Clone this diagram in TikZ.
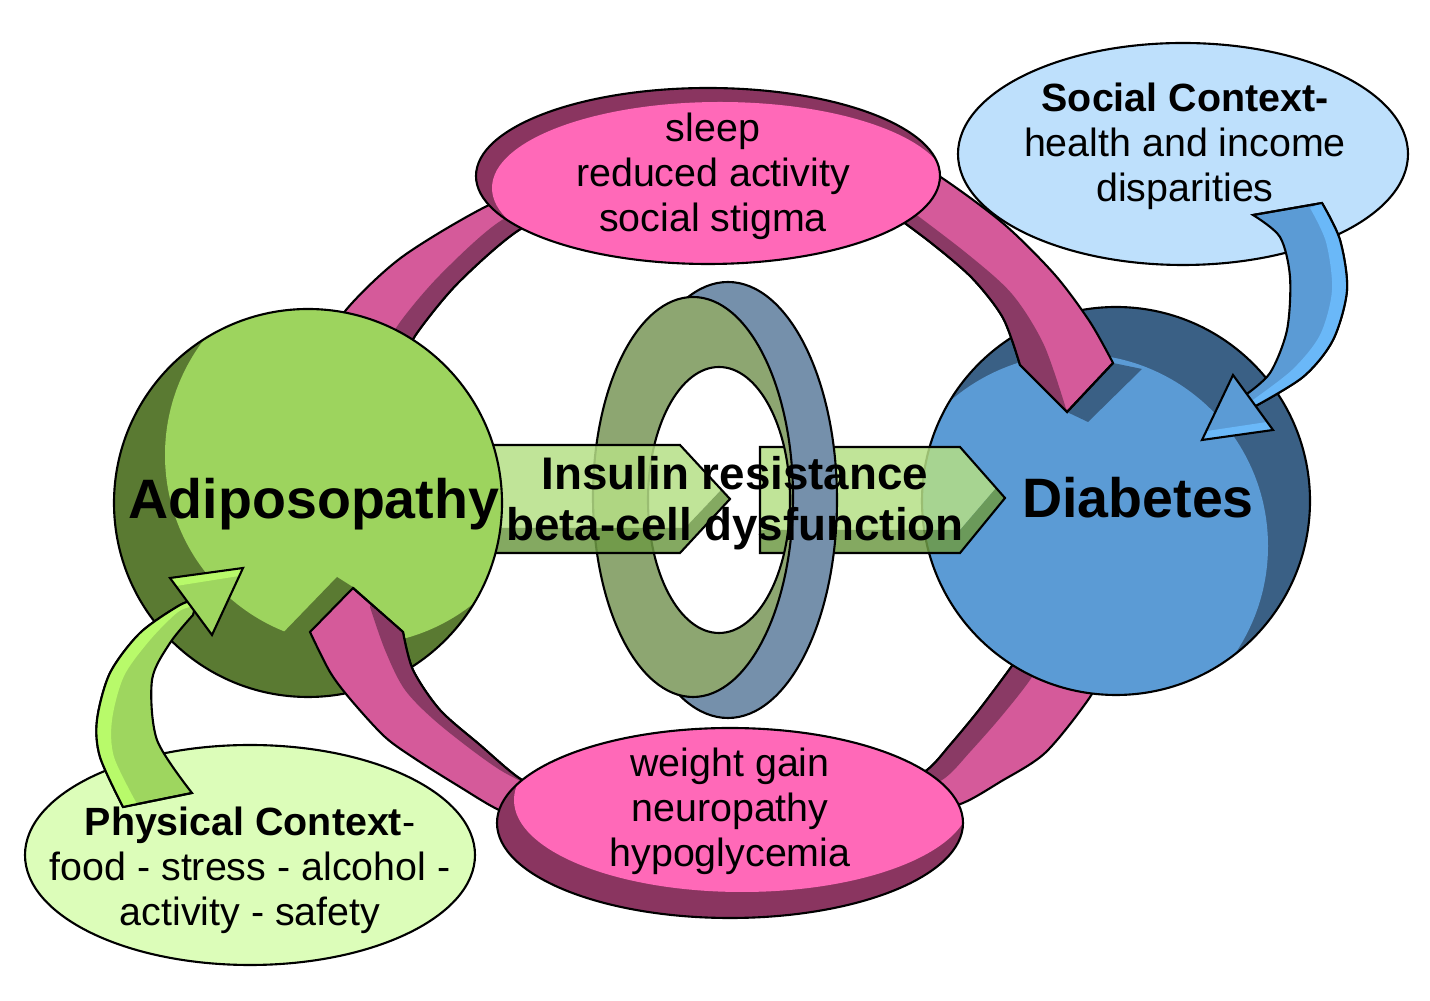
\documentclass[tikz,border=0pt]{standalone}
\usepackage{fontspec}
\setmainfont{Liberation Sans}

\definecolor{adidark}{HTML}{5A7A32}
\definecolor{adilight}{HTML}{9DD45E}
\definecolor{diadark}{HTML}{3A6085}
\definecolor{dialight}{HTML}{5B9BD5}
\definecolor{ribface}{HTML}{D55A9A}
\definecolor{ribside}{HTML}{8A3A65}
\definecolor{capface}{HTML}{FF69B8}
\definecolor{caprim}{HTML}{8A3560}
\definecolor{ringgreen}{HTML}{8DA671}
\definecolor{ringblue}{HTML}{7590AB}
\definecolor{chevlight}{HTML}{B5DF86}
\definecolor{chevdark}{HTML}{6E9A45}
\definecolor{socfill}{HTML}{BEE0FC}
\definecolor{physfill}{HTML}{DCFDB9}
\definecolor{barrow}{HTML}{5B9BD5}
\definecolor{barrowhi}{HTML}{6AB8F8}
\definecolor{garrow}{HTML}{9ED65F}
\definecolor{garrowhi}{HTML}{B8FA6A}

\begin{document}
\begin{tikzpicture}[x=0.01cm,y=-0.01cm,
  outline/.style={draw=black,line width=0.6pt},
  txt/.style={inner sep=0pt,align=center,font=\fontsize{11.2}{12.8}\selectfont},
  big/.style={inner sep=0pt,anchor=base,font=\fontsize{15.8}{18}\selectfont\bfseries}]
  \tikzstyle{chevside}=[fill=chevdark,fill opacity=0.85]
  \tikzstyle{chevface}=[fill=chevlight,fill opacity=0.85]

  \useasboundingbox (0,0) rectangle (1430,1001);

  % ribbons behind the circles
  \filldraw[fill=ribface,outline] plot[smooth] coordinates {(330,345) (346,310) (402,257) (489,205) (560,180)}
    -- plot[smooth] coordinates {(580,205) (519,230) (458,283) (417,333) (400,365)} -- cycle;
  \fill[ribside] plot[smooth] coordinates {(380,362) (398,325) (440,275) (502,220) (570,195)}
    -- plot[smooth] coordinates {(580,205) (519,230) (458,283) (417,333) (400,365)} -- cycle;
  \draw[outline] plot[smooth] coordinates {(580,205) (519,230) (458,283) (417,333) (400,365)};

  \filldraw[fill=ribface,outline] plot[smooth] coordinates {(1110,660) (1088,700) (1045,753) (1000,782) (963,803) (920,815)}
    -- plot[smooth] coordinates {(890,790) (927,770) (950,745) (979,710) (1009,670) (1030,640)} -- cycle;
  \fill[ribside] plot[smooth] coordinates {(1050,645) (1030,680) (1000,718) (970,752) (945,778) (905,800)}
    -- plot[smooth] coordinates {(890,790) (927,770) (950,745) (979,710) (1009,670) (1030,640)} -- cycle;
  \draw[outline] plot[smooth] coordinates {(890,790) (927,770) (950,745) (979,710) (1009,670) (1030,640)};

  % Diabetes
  \fill[diadark] (1116,501) circle (194);
  \begin{scope}
    \clip (1116,501) circle (194);
    \fill[dialight] (1076,546) circle (192);
    \fill[diadark] (1067,412) -- (1113,363) -- (1142,369) -- (1088,422) -- cycle;
  \end{scope}
  \draw[outline] (1116,501) circle (194);

  % chevron through the ring
  \fill[chevface] (760,447) -- (960,447) -- (996,488) -- (960,530) -- (760,530) -- cycle;
  \fill[chevside] (760,530) -- (960,530) -- (996,488) -- (1005,498) -- (960,553) -- (760,553) -- cycle;
  \draw[outline] (760,447) -- (960,447) -- (1005,498) -- (960,553) -- (760,553) -- cycle;

  % ring
  \fill[ringblue,even odd rule] (728,500) ellipse [x radius=109,y radius=218] (693,497) ellipse [x radius=100,y radius=200];
  \draw[outline] (728,500) ellipse [x radius=109,y radius=218];
  \filldraw[fill=ringgreen,outline,even odd rule] (693,497) ellipse [x radius=100,y radius=200] (719,500) ellipse [x radius=71,y radius=133];

  \fill[chevface] (470,445) -- (680,445) -- (721,490) -- (685,528) -- (470,528) -- cycle;
  \fill[chevside] (470,528) -- (685,528) -- (721,490) -- (730,499) -- (680,553) -- (470,553) -- cycle;
  \draw[outline] (470,445) -- (680,445) -- (730,499) -- (680,553) -- (470,553);

  % Adiposopathy
  \fill[adidark] (308,503) circle (194);
  \begin{scope}
    \clip (308,503) circle (194);
    \fill[adilight] (355,455) circle (190);
    \fill[adidark] (280,636) -- (337,577) -- (356,589) -- (330,645) -- cycle;
  \end{scope}
  \draw[outline] (308,503) circle (194);

  % ribbons ending on the circles
  \filldraw[fill=ribface,outline] plot[smooth] coordinates {(880,140) (945,180) (1005,225) (1055,275) (1090,322) (1113,363)}
    -- (1067,412) -- plot[smooth] coordinates {(1020,365) (1003,318) (972,278) (930,242) (880,205)} -- cycle;
  \fill[ribside] plot[smooth] coordinates {(1067,412) (1044,345) (1012,294) (965,252) (890,195)}
    -- plot[smooth] coordinates {(880,205) (930,242) (972,278) (1003,318) (1020,365)} -- cycle;
  \draw[outline] (1113,363) -- (1067,412) -- plot[smooth] coordinates {(1020,365) (1003,318) (972,278) (930,242) (880,205)};

  \filldraw[fill=ribface,outline] plot[smooth] coordinates {(310,632) (330,672) (351,700) (385,737) (417,760) (460,787) (499,810) (550,830)}
    -- plot[smooth] coordinates {(560,800) (519,778) (480,745) (440,710) (413,670) (403,632)} -- (353,588) -- cycle;
  \fill[ribside] (370,605) -- plot[smooth] coordinates {(370,607) (385,650) (405,690) (440,725) (500,770) (555,797)}
    -- plot[smooth] coordinates {(560,800) (519,778) (480,745) (440,710) (413,670) (403,632)} -- cycle;
  \draw[outline] (353,588) -- plot[smooth] coordinates {(403,632) (413,670) (440,710) (480,745) (519,778) (560,800)};

  % caps
  \fill[caprim] (708,176) ellipse [x radius=232,y radius=88];
  \begin{scope}
    \clip (708,176) ellipse [x radius=232,y radius=88];
    \fill[capface] (720,188) ellipse [x radius=228,y radius=86];
  \end{scope}
  \draw[outline] (708,176) ellipse [x radius=232,y radius=88];

  \fill[caprim] (730,823) ellipse [x radius=233,y radius=95];
  \begin{scope}
    \clip (730,823) ellipse [x radius=233,y radius=95];
    \fill[capface] (742,800) ellipse [x radius=228,y radius=92];
  \end{scope}
  \draw[outline] (730,823) ellipse [x radius=233,y radius=95];

  % contexts
  \filldraw[fill=socfill,outline] (1183,154) ellipse [x radius=225,y radius=111];
  \filldraw[fill=physfill,outline] (250,855) ellipse [x radius=225,y radius=110];

  \filldraw[fill=barrow,outline] plot[smooth] coordinates {(1253,215) (1280,237) (1290,277) (1287,330) (1270,373) (1244,396)}
    -- plot[smooth] coordinates {(1252,408) (1303,377) (1333,340) (1347,290) (1340,240) (1322,203)} -- cycle;
  \fill[barrowhi] plot[smooth] coordinates {(1310,208) (1326,242) (1332,290) (1320,335) (1292,370) (1250,402)}
    -- plot[smooth] coordinates {(1252,408) (1303,377) (1333,340) (1347,290) (1340,240) (1322,203)} -- cycle;
  \draw[outline] plot[smooth] coordinates {(1252,408) (1303,377) (1333,340) (1347,290) (1340,240) (1322,203)} -- (1253,215);
  \fill[barrow] (1233,375) -- (1273,430) -- (1202,440) -- cycle;
  \fill[barrowhi] (1202,440) -- (1273,430) -- (1267,422) -- (1207,431) -- cycle;
  \draw[outline] (1233,375) -- (1273,430) -- (1202,440) -- cycle;

  \filldraw[fill=garrow,outline] plot[smooth] coordinates {(123,807) (100,757) (97,720) (110,673) (140,633) (180,605) (197,600)}
    -- plot[smooth] coordinates {(193,615) (170,643) (152,680) (157,740) (192,793)} -- cycle;
  \fill[garrowhi] plot[smooth] coordinates {(123,807) (100,757) (97,720) (110,673) (140,633) (180,605) (197,600)}
    -- plot[smooth] coordinates {(195,606) (178,612) (150,640) (124,676) (112,720) (114,757) (137,804)} -- cycle;
  \draw[outline] (192,793) -- plot[smooth] coordinates {(123,807) (100,757) (97,720) (110,673) (140,633) (180,605) (197,600)};
  \fill[garrow] (170,578) -- (243,568) -- (212,635) -- cycle;
  \fill[garrowhi] (170,578) -- (243,568) -- (239,576) -- (176,586) -- cycle;
  \draw[outline] (170,578) -- (243,568) -- (212,635) -- cycle;

  % labels
  \node[big] (adipo) at (314,519) {Adiposopathy};
  \node[big] (diab) at (1138,518) {Diabetes};
  \node[inner sep=0pt,align=center,font=\fontsize{13}{14.5}\selectfont\bfseries] (insulin) at (735,503) {Insulin resistance\\beta-cell dysfunction};
  \node[txt] (topcap) at (713,176) {sleep\\reduced activity\\social stigma};
  \node[txt] (botcap) at (730,811) {weight gain\\neuropathy\\hypoglycemia};
  \node[txt] (social) at (1185,146) {\textbf{Social Context-}\\health and income\\disparities};
  \node[txt] (physical) at (250,870) {\textbf{Physical Context}-\\food - stress - alcohol -\\activity - safety};

\end{tikzpicture}
\end{document}
